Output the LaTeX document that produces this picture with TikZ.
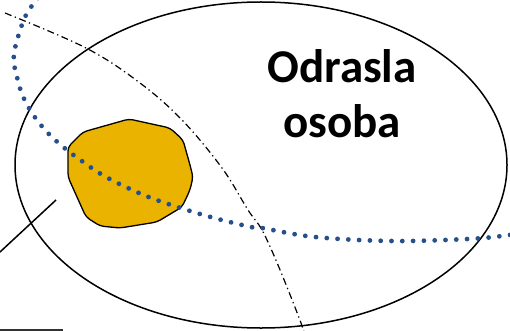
\documentclass[tikz,border=0pt]{standalone}
\usepackage{fontspec}
\setmainfont{Carlito}
\definecolor{blobgold}{RGB}{233,179,0}
\definecolor{dotblue}{RGB}{38,80,140}
\begin{document}
\begin{tikzpicture}[x=1pt,y=-1pt,
  outline/.style={draw=black,line width=1.5pt},
  dotline/.style={draw=dotblue,line width=4.8pt,line cap=round,dash pattern=on 0pt off 10.8pt},
  dashdotline/.style={draw=black,line width=1.2pt,dash pattern=on 7pt off 3.5pt on 1.3pt off 3.5pt},
  label/.style={font=\bfseries\fontsize{47}{54}\selectfont,align=center,inner sep=0pt}]
\useasboundingbox (0,0) rectangle (510,331);
\fill[white] (0,0) rectangle (510,331);
% big ellipse
\draw[outline] (261,165) ellipse [x radius=246, y radius=163];
% dash-dot curve
\draw[dashdotline] plot[smooth,tension=0.6] coordinates {(5,13) (86,48) (140,83) (182,120) (222,168) (248,210) (262,230) (278,265) (298,315) (305,335)};
% gold blob
\draw[outline,fill=blobgold,line width=1.3pt,rounded corners=4pt]
  (68,147) -- (83,132) -- (129,119) -- (170,128) -- (183,140) -- (190,165) -- (193,177) -- (190,190) -- (182,207) -- (157,222) -- (120,228) -- (100,226) -- (86,217) -- (68,177) -- cycle;
% dotted blue curve
\draw[dotline] plot[smooth,tension=0.6] coordinates {(38,-2) (25,17) (15,48) (14,62) (16,73) (22,94) (32,113) (46,131) (62,146) (79,159) (106,177) (146,196) (187,210) (218,219) (251,227) (262,228) (315,237) (392,241) (468,239) (502,236) (515,234)};
% black line
\coordinate (la) at (0,252);
\coordinate (lb) at (56,200);
\draw[black,line width=1.5pt] (la) -- (lb);
% bottom line
\coordinate (ba) at (0,330);
\coordinate (bb) at (63,330);
\draw[black!80,line width=1.2pt] (ba) -- (bb);
% text
\node[label,anchor=base] (t1) at (342,83) {Odrasla};
\node[label,anchor=base] (t2) at (342,137) {osoba};
\end{tikzpicture}
\end{document}
